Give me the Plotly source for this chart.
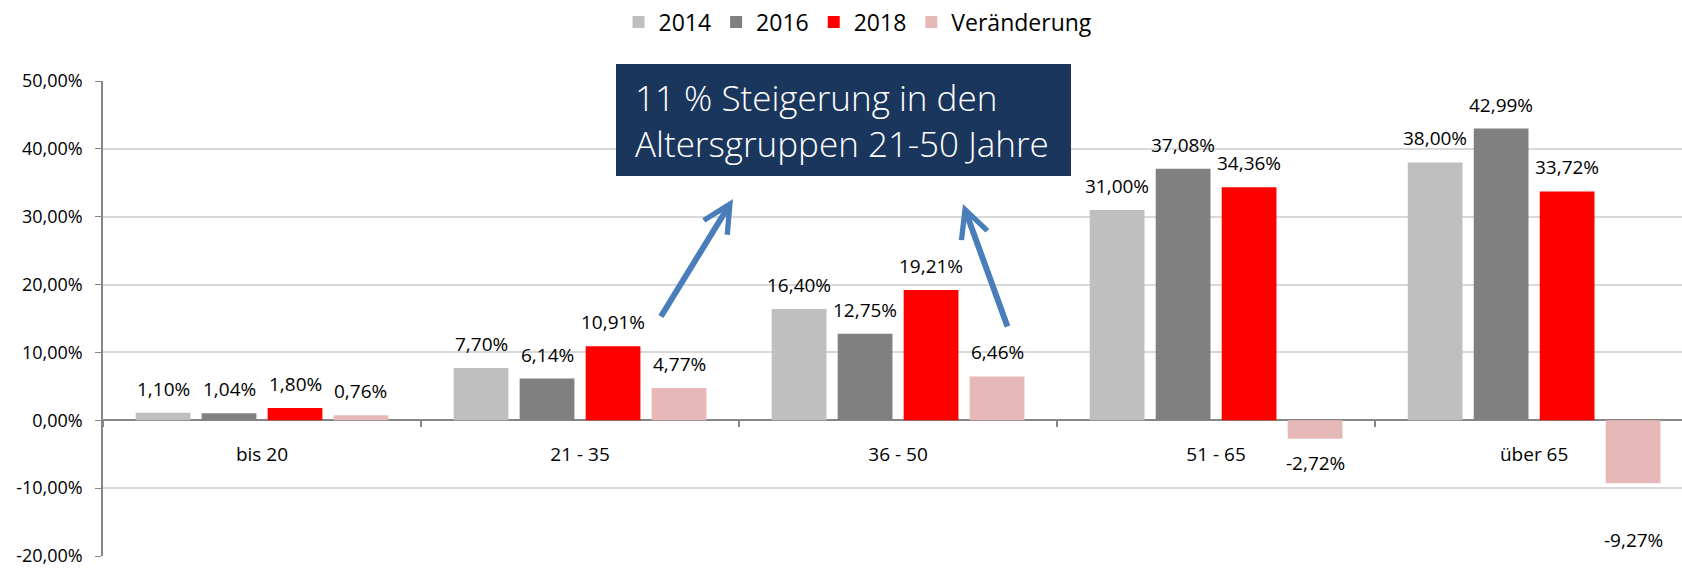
import plotly.graph_objects as go

# Altersgruppen und Anteile in Prozent
categories = ["bis 20", "21 - 35", "36 - 50", "51 - 65", "über 65"]
share_2014 = [1.10, 7.70, 16.40, 31.00, 38.00]
share_2016 = [1.04, 6.14, 12.75, 37.08, 42.99]
share_2018 = [1.80, 10.91, 19.21, 34.36, 33.72]
change = [0.76, 4.77, 6.46, -2.72, -9.27]

y_ticks = [-20, -10, 0, 10, 20, 30, 40, 50]
y_ticktext = [f"{v:.2f}%".replace(".", ",") for v in y_ticks]

series = [
    ("2014", share_2014, "#BFBFBF"),
    ("2016", share_2016, "#808080"),
    ("2018", share_2018, "#FF0000"),
    ("Veränderung", change, "#E6B8B7"),
]

FONT = "Open Sans"

# Plotbereich in Pixeln (für Papierkoordinaten der Beschriftungen)
L, R, T, B = 103, 0, 81, 12
W, H = 1682, 568
PW, PH = W - L - R, H - T - B
X_RANGE = [-0.5, 4.465]
BARGAP = 0.17

# im Original sitzt das Label des letzten Balkens tiefer
label_nudge = {("Veränderung", "über 65"): -42}


def px(x):
    return (x - L) / PW


def py(y):
    return (H - B - y) / PH


fig = go.Figure()
for name, vals, color in series:
    fig.add_trace(
        go.Bar(
            x=categories,
            y=vals,
            name=name,
            marker=dict(color=color, line=dict(width=0)),
        )
    )

# Datenbeschriftungen mit etwas Abstand zum Balken (wie im Original)
cat_px = PW / (X_RANGE[1] - X_RANGE[0])
pitch = cat_px * (1 - BARGAP) / len(series)
for i, (name, vals, color) in enumerate(series):
    for cat, v in zip(categories, vals):
        shift = 9 if v >= 0 else -9
        shift = label_nudge.get((name, cat), shift)
        fig.add_annotation(
            x=cat, y=v, xref="x", yref="y",
            text=f"{v:.2f}%".replace(".", ","),
            showarrow=False,
            xshift=(i - (len(series) - 1) / 2) * pitch,
            yshift=shift,
            yanchor="bottom" if v >= 0 else "top",
            font=dict(family=FONT, size=19, color="#000000"),
        )

# Hinweisbox
fig.add_shape(
    type="rect",
    xref="paper", yref="paper",
    x0=px(616), x1=px(1071), y0=py(176), y1=py(64),
    fillcolor="#1B365D",
    line=dict(width=0),
    layer="above",
)
fig.add_annotation(
    xref="paper", yref="paper",
    x=px(633), y=py(120),
    xanchor="left", yanchor="middle",
    align="left",
    text="11 % Steigerung in den<br>Altersgruppen 21-50 Jahre",
    showarrow=False,
    font=dict(family=FONT, size=35, color="#FFFFFF", weight=300),
)

# Pfeile
for head, tail in [((733, 199), (660, 318)), ((963, 204), (1008, 328))]:
    fig.add_annotation(
        xref="paper", yref="paper",
        x=px(head[0]), y=py(head[1]),
        ax=tail[0] - head[0], ay=tail[1] - head[1],
        text="",
        showarrow=True,
        arrowhead=5,
        arrowsize=0.9,
        arrowwidth=6,
        arrowcolor="#4A7EBB",
        standoff=0,
    )

fig.update_layout(
    width=W,
    height=H,
    barmode="group",
    bargap=BARGAP,
    bargroupgap=0.17,
    paper_bgcolor="#FFFFFF",
    plot_bgcolor="#FFFFFF",
    margin=dict(l=L, r=R, t=T, b=B),
    font=dict(family=FONT, size=18, color="#000000"),
    legend=dict(
        orientation="h",
        x=px(858), y=py(22),
        xanchor="center", yanchor="middle",
        font=dict(family=FONT, size=23, color="#000000"),
        itemwidth=30,
        bgcolor="rgba(0,0,0,0)",
    ),
    xaxis=dict(
        type="category",
        range=X_RANGE,
        anchor="free",
        position=20 / 70,
        showgrid=False,
        showline=False,
        zeroline=False,
        ticks="outside",
        tickson="boundaries",
        ticklen=6,
        tickcolor="#868686",
        tickwidth=1.5,
        ticklabelstandoff=21,
        tickfont=dict(family=FONT, size=19, color="#000000"),
    ),
    yaxis=dict(
        range=[-20, 50],
        tickvals=y_ticks,
        ticktext=y_ticktext,
        showgrid=True,
        gridcolor="#D9D9D9",
        gridwidth=1.5,
        showline=True,
        linecolor="#868686",
        linewidth=1.5,
        zeroline=True,
        zerolinecolor="#868686",
        zerolinewidth=2,
        ticks="outside",
        ticklen=6,
        tickcolor="#868686",
        ticklabelstandoff=9,
        tickfont=dict(family=FONT, size=18, color="#000000"),
    ),
)

fig.write_html(
    "out.html",
    config={"displayModeBar": False},
    post_script="document.body.style.margin='0';",
)
